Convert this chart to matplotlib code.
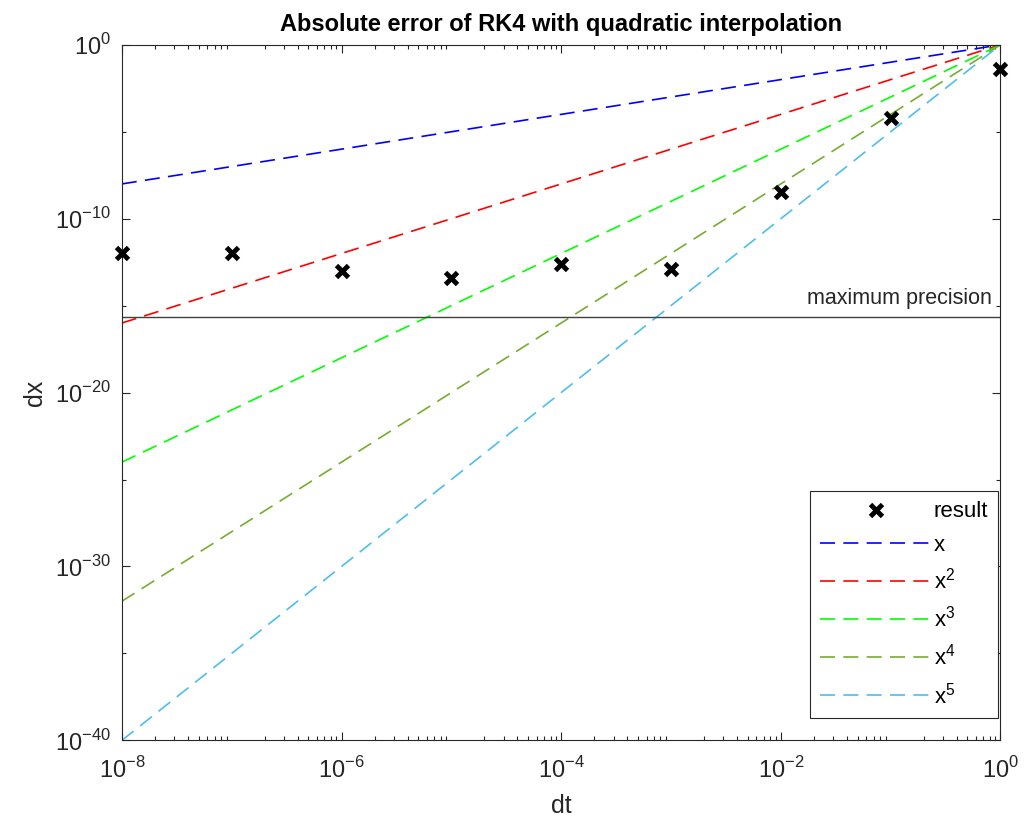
import numpy as np
import matplotlib.pyplot as plt
from matplotlib.ticker import LogLocator, NullFormatter, FixedLocator, FuncFormatter

plt.rcParams['font.family'] = ['Liberation Sans', 'DejaVu Sans']
plt.rcParams['mathtext.fontset'] = 'custom'
plt.rcParams['mathtext.rm'] = 'Liberation Sans'

# measured error of RK4 for each time step
dt = [1e-8, 1e-7, 1e-6, 1e-5, 1e-4, 1e-3, 1e-2, 1e-1, 1e0]
dx = [1.1e-12, 1.1e-12, 1.0e-13, 4.0e-14, 2.5e-13, 1.3e-13, 3.5e-9, 6.5e-5, 4.2e-2]

# reference power laws
powers = [1, 2, 3, 4, 5]
line_labels = ['x', 'x$^2$', 'x$^3$', 'x$^4$', 'x$^5$']
line_colors = ['#0000ff', '#ff0000', '#00ff00', '#77ac30', '#4dbeee']
dt_ref = np.array([1e-8, 1e0])

eps = 2.22e-16

fig = plt.figure(figsize=(10.24, 8.3), dpi=100)
ax = fig.add_axes([0.119, 0.108, 0.858, 0.838])

ax.plot(dt, dx, 'x', color='black', markersize=9, markeredgewidth=3.5,
        label='result', zorder=5, clip_on=False)
for p, lab, c in zip(powers, line_labels, line_colors):
    ax.plot(dt_ref, dt_ref ** p, '--', color=c, lw=1.2, dashes=(9, 5), label=lab)

ax.axhline(eps, color='#404040', lw=1)
ax.text(0.99, eps * 3, 'maximum precision', ha='right', va='bottom',
        fontsize=15.5, color='#262626', transform=ax.get_yaxis_transform())


def pow10(v, pos):
    e = int(round(np.log10(v)))
    return r'10$^{\mathregular{%s}}$' % ('-%d' % -e if e < 0 else '%d' % e)


ax.set_xscale('log')
ax.set_yscale('log')
ax.set_xlim(1e-8, 1e0)
ax.set_ylim(1e-40, 1e0)

ax.xaxis.set_major_locator(FixedLocator([1e-8, 1e-6, 1e-4, 1e-2, 1e0]))
ax.xaxis.set_major_formatter(FuncFormatter(pow10))
ax.xaxis.set_minor_locator(LogLocator(base=10, subs=np.arange(2, 10), numticks=100))
ax.xaxis.set_minor_formatter(NullFormatter())
ax.yaxis.set_major_locator(FixedLocator([1e-40, 1e-30, 1e-20, 1e-10, 1e0]))
ax.yaxis.set_major_formatter(FuncFormatter(pow10))
ax.yaxis.set_minor_locator(FixedLocator([1e-35, 1e-25, 1e-15, 1e-5]))
ax.yaxis.set_minor_formatter(NullFormatter())

ax.tick_params(which='both', direction='in', top=True, right=True,
               colors='#262626', labelsize=17, width=0.8)
ax.tick_params(which='major', length=6)
ax.tick_params(which='minor', length=3)
ax.tick_params(axis='x', which='major', pad=12)
ax.tick_params(axis='y', which='major', pad=8)
for s in ax.spines.values():
    s.set_color('#262626')
    s.set_linewidth(0.8)

ax.set_xlabel('dt', fontsize=18, color='#262626', labelpad=8)
ax.set_ylabel('dx', fontsize=18, color='#262626', labelpad=6)
ax.set_title('Absolute error of RK4 with quadratic interpolation',
             fontsize=17, fontweight='bold', color='black', pad=10)

leg = ax.legend(loc='lower right', bbox_to_anchor=(0.9975, 0.032), fontsize=16,
                handlelength=5.0, handletextpad=0.1, labelspacing=0.55,
                fancybox=False, edgecolor='#262626', framealpha=1,
                borderpad=0.45, borderaxespad=0.0)
leg.get_frame().set_linewidth(0.8)

fig.savefig('out.png', dpi=100)
